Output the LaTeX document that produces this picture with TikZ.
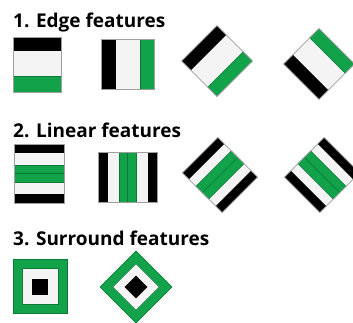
\documentclass[tikz,border=0pt]{standalone}
\usepackage{fontspec}
\setmainfont{Open Sans}
\usepackage{xcolor}
\usepackage{tikz}
\definecolor{featgreen}{HTML}{12A24A}
\definecolor{featdark}{HTML}{0B7A36}
\definecolor{featwhite}{HTML}{F4F4F4}
\tikzset{
  title/.style={font=\fontsize{19}{21}\selectfont\bfseries,anchor=base west,inner sep=0pt},
  blank/.style={fill=featwhite},
  blackband/.style={fill=black},
  greenband/.style={fill=featgreen,draw=featdark,line width=0.5pt},
  tileframe/.style={draw=gray!75,line width=0.6pt}
}

\begin{document}
\begin{tikzpicture}[x=1pt,y=-1pt]
  \useasboundingbox[fill=white] (0,0) rectangle (353,323);
  % Titles
  \node[title] (t1) at (13,28) {1. Edge features};
  \node[title] (t2) at (13,138) {2. Linear features};
  \node[title] (t3) at (13,245) {3. Surround features};

  % Row 1: edge features
  \begin{scope}[shift={(37,64.5)}]
    \fill[blank] (-24,-27.5) rectangle (24,27.5);
    \fill[blackband] (-24,-27.5) rectangle (24,-13.5);
    \filldraw[greenband] (-24,11.5) rectangle (24,27.5);
    \draw[tileframe] (-24,-27.5) rectangle (24,27.5);
  \end{scope}
  \begin{scope}[shift={(127.5,64)}]
    \fill[blank] (-26.5,-25) rectangle (26.5,25);
    \fill[blackband] (-26.5,-25) rectangle (-11.5,25);
    \filldraw[greenband] (12.5,-25) rectangle (26.5,25);
    \draw[tileframe] (-26.5,-25) rectangle (26.5,25);
  \end{scope}
  % rotated copies: black on the left before turning
  \foreach \cx/\cy/\ang in {217/61/-45, 319/64/45} {
    \begin{scope}[shift={(\cx,\cy)},rotate=\ang]
      \fill[blank] (-25,-25) rectangle (25,25);
      \fill[blackband] (-25,-25) rectangle (-12,25);
      \filldraw[greenband] (12,-25) rectangle (25,25);
      \draw[tileframe] (-25,-25) rectangle (25,25);
    \end{scope}
  }

  % Row 2: linear features
  \begin{scope}[shift={(39,173.5)}]
    \fill[blank] (-25,-29.5) rectangle (25,29.5);
    \fill[blackband] (-25,-29.5) rectangle (25,-20);
    \fill[blackband] (-25,20) rectangle (25,29.5);
    \filldraw[greenband] (-25,-8.5) rectangle (25,8.5);
    \draw[featdark,line width=0.7pt] (-25,0) -- (25,0);
    \draw[tileframe] (-25,-29.5) rectangle (25,29.5);
  \end{scope}
  \begin{scope}[shift={(127.5,177)}]
    \fill[blank] (-29.5,-25) rectangle (29.5,25);
    \fill[blackband] (-29.5,-25) rectangle (-20,25);
    \fill[blackband] (20,-25) rectangle (29.5,25);
    \filldraw[greenband] (-8.5,-25) rectangle (8.5,25);
    \draw[featdark,line width=0.7pt] (0,-25) -- (0,25);
    \draw[tileframe] (-29.5,-25) rectangle (29.5,25);
  \end{scope}
  \foreach \cx/\cy/\ang in {220/175/-45, 322/175/45} {
    \begin{scope}[shift={(\cx,\cy)},rotate=\ang]
      \fill[blank] (-28,-25) rectangle (28,25);
      \fill[blackband] (-28,-25) rectangle (-19,25);
      \fill[blackband] (19,-25) rectangle (28,25);
      \filldraw[greenband] (-9,-25) rectangle (9,25);
      \draw[featdark,line width=0.7pt] (0,-25) -- (0,25);
      \draw[tileframe] (-28,-25) rectangle (28,25);
    \end{scope}
  }

  % Row 3: surround features
  \foreach \cx/\cy/\ang/\hs in {40/286.5/0/27, 136/287/45/25.5} {
    \begin{scope}[shift={(\cx,\cy)},rotate=\ang]
      \filldraw[greenband] (-\hs,-\hs) rectangle (\hs,\hs);
      \pgfmathsetmacro{\ins}{\hs-9}
      \filldraw[fill=featwhite,draw=featdark,line width=0.5pt] (-\ins,-\ins) rectangle (\ins,\ins);
      \fill[blackband] (-8,-8) rectangle (8,8);
    \end{scope}
  }
\end{tikzpicture}
\end{document}
